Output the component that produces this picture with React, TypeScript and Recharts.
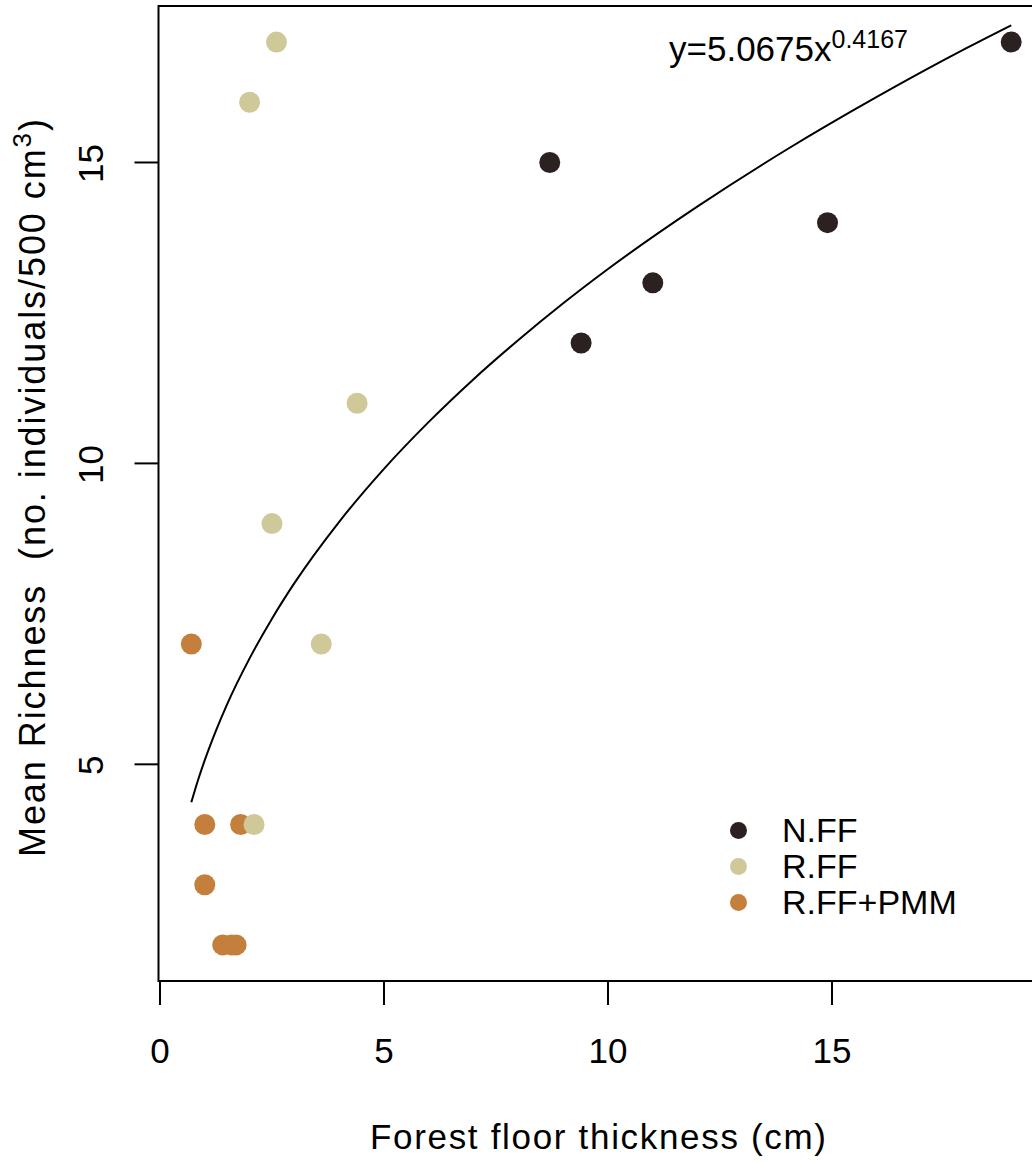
import { ComposedChart, Scatter, Line, XAxis, YAxis, ReferenceArea, Legend, Label } from 'recharts';

// forest floor thickness (cm) vs mean richness
const nffX = [8.7, 9.4, 11.0, 14.9, 19.0];
const nffY = [15, 12, 13, 14, 17];
const rffX = [2.6, 2.0, 4.4, 2.5, 3.6, 2.1];
const rffY = [17, 16, 11, 9, 7, 4];
const pmmX = [0.7, 1.0, 1.8, 1.0, 1.4, 1.6, 1.7];
const pmmY = [7, 4, 4, 3, 2, 2, 2];

// fitted power curve y=5.0675x^0.4167
const fitX = [0.7, 0.85, 1, 1.25, 1.5, 2, 2.5, 3, 4, 5, 6, 7, 8, 9, 10, 12, 14, 16, 18, 19];
const fitY = [4.37, 4.74, 5.07, 5.56, 6.0, 6.76, 7.42, 8.01, 9.03, 9.91, 10.69, 11.4, 12.05, 12.66, 13.23, 14.27, 15.22, 16.09, 16.9, 17.28];

const xTicks = [0, 5, 10, 15];
const yTicks = [5, 10, 15];

const series = [
  { name: 'N.FF', color: '#2b2121' },
  { name: 'R.FF', color: '#cfc898' },
  { name: 'R.FF+PMM', color: '#c47f3c' },
];

const X_MIN = -0.033;
const X_MAX = 19.732;
const Y_MIN = 1.4;
const Y_MAX = 17.6;

const FONT = '"Liberation Sans", Arial, Helvetica, sans-serif';

const toPts = (xs: number[], ys: number[]) => xs.map((x, i) => ({ x, y: ys[i] }));

const nff = toPts(nffX, nffY);
const rff = toPts(rffX, rffY);
const pmm = toPts(pmmX, pmmY);
const fit = toPts(fitX, fitY);

const dot = (color: string) => (props: any) => (
  <circle cx={props.cx} cy={props.cy} r={10.5} fill={color} />
);

const XTick = ({ x, y, payload }: any) => (
  <text x={x} y={y + 56} textAnchor="middle" fontSize={35} fontFamily={FONT} fill="#000">
    {payload.value}
  </text>
);

const YTick = ({ x, y, payload }: any) => {
  const bx = x - 29.5;
  return (
    <text x={bx} y={y + 1} transform={`rotate(-90, ${bx}, ${y + 1})`} textAnchor="middle" fontSize={35} fontFamily={FONT} fill="#000">
      {payload.value}
    </text>
  );
};

const LegendBox = () => (
  <div style={{ fontFamily: FONT, fontSize: 34, color: '#000' }}>
    {series.map((s) => (
      <div key={s.name} style={{ display: 'flex', alignItems: 'center', height: 36 }}>
        <svg width={17} height={17} style={{ marginRight: 35 }}>
          <circle cx={8.5} cy={8.5} r={8.5} fill={s.color} />
        </svg>
        <span style={{ lineHeight: '36px' }}>{s.name}</span>
      </div>
    ))}
  </div>
);

export default function App() {
  return (
    <div style={{ position: 'absolute', left: 0, top: 0, width: 1032, height: 1163, overflow: 'hidden', background: '#fff' }}>
      <ComposedChart width={1060} height={1163} margin={{ top: 6, right: 16, bottom: 22, left: 98.5 }}>
        <XAxis
          type="number"
          dataKey="x"
          domain={[X_MIN, X_MAX]}
          ticks={xTicks}
          allowDataOverflow
          height={160}
          tickSize={24}
          tickMargin={2}
          axisLine={false}
          tickLine={{ stroke: '#000', strokeWidth: 2 }}
          tick={<XTick />}
        >
          <Label
            content={(p: any) => (
              <text x={598} y={p.viewBox.y + 168} textAnchor="middle" fontSize={35} fontFamily={FONT} fill="#000" textLength={456} lengthAdjust="spacing">
                Forest floor thickness (cm)
              </text>
            )}
          />
        </XAxis>
        <YAxis
          type="number"
          dataKey="y"
          domain={[Y_MIN, Y_MAX]}
          ticks={yTicks}
          allowDataOverflow
          width={60}
          tickSize={24}
          tickMargin={2}
          axisLine={false}
          tickLine={{ stroke: '#000', strokeWidth: 2 }}
          tick={<YTick />}
        >
          <Label
            content={(p: any) => {
              const bx = 45;
              const cy = 488;
              return (
                <text x={bx} y={cy} transform={`rotate(-90, ${bx}, ${cy})`} textAnchor="middle" fontSize={36} fontFamily={FONT} fill="#000" textLength={738} lengthAdjust="spacing">
                  Mean Richness{'\u00a0\u00a0'}(no. individuals/500 cm<tspan dy={-14} fontSize={26}>3</tspan><tspan dy={14}>)</tspan>
                </text>
              );
            }}
          />
        </YAxis>
        <ReferenceArea x1={X_MIN} x2={X_MAX} y1={Y_MIN} y2={Y_MAX} fill="none" stroke="#000" strokeWidth={2} ifOverflow="visible" />
        <Line data={fit} dataKey="y" type="monotone" stroke="#000" strokeWidth={2} dot={false} activeDot={false} isAnimationActive={false} />
        <Scatter data={nff} dataKey="y" name="N.FF" shape={dot(series[0].color)} isAnimationActive={false} />
        <Scatter data={pmm} dataKey="y" name="R.FF+PMM" shape={dot(series[2].color)} isAnimationActive={false} />
        <Scatter data={rff} dataKey="y" name="R.FF" shape={dot(series[1].color)} isAnimationActive={false} />
        <Legend layout="vertical" align="center" verticalAlign="middle" content={<LegendBox />} wrapperStyle={{ position: 'absolute', left: 730, top: 812, width: 260 }} />
        <text x={669} y={61} fontSize={35} fontFamily={FONT} fill="#000">
          y=5.0675x<tspan dy={-13} fontSize={25}>0.4167</tspan>
        </text>
      </ComposedChart>
    </div>
  );
}
